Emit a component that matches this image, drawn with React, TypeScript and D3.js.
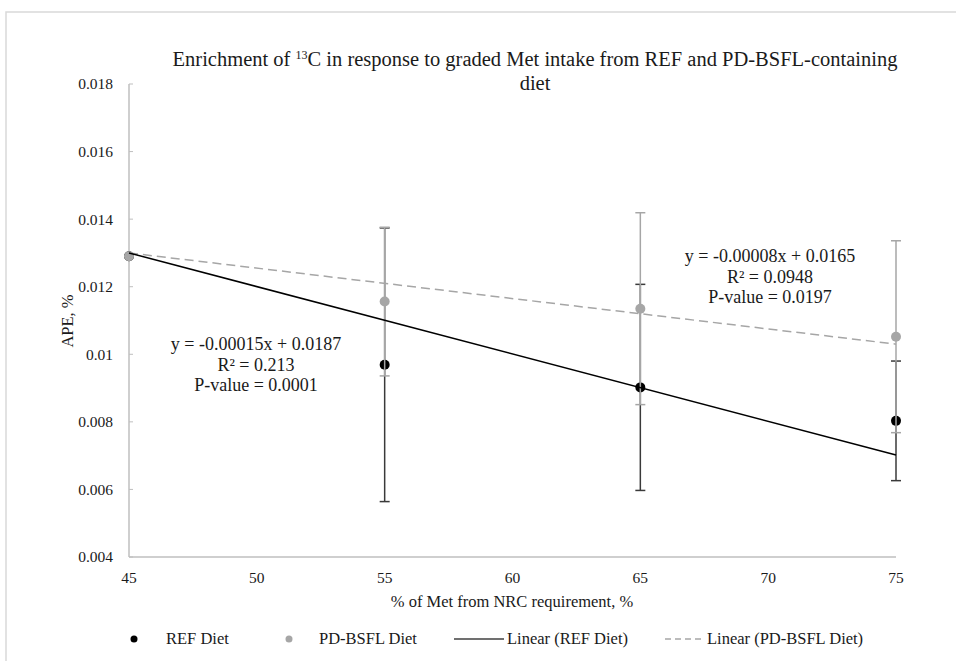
import * as d3 from 'd3'

// values
const doses = [45, 55, 65, 75]
const refMean = [0.0129, 0.00969, 0.00902, 0.00803]
const refErr = [0, 0.00405, 0.00305, 0.00177]
const bsflMean = [0.0129, 0.01156, 0.01135, 0.01052]
const bsflErr = [0, 0.0022, 0.00284, 0.00284]

// fitted lines as drawn (start / end)
const refTrend = [[45, 0.0130], [75, 0.00702]]
const bsflTrend = [[45, 0.0130], [75, 0.0103]]

const yTicks = [0.004, 0.006, 0.008, 0.01, 0.012, 0.014, 0.016, 0.018]
const xTicks = [45, 50, 55, 60, 65, 70, 75]

const refLabel = ['y = -0.00015x + 0.0187', 'R² = 0.213', 'P-value = 0.0001']
const bsflLabel = ['y = -0.00008x + 0.0165', 'R² = 0.0948', 'P-value = 0.0197']

const FONT = '"Liberation Serif", "Times New Roman", serif'
const BLACK = '#000000'
const GREY = '#a6a6a6'
const BAR_DARK = '#3a3a3a'
const AXIS = '#bfbfbf'

export default function App() {
  const width = 956
  const height = 661
  const margin = { top: 84, right: 60, bottom: 104, left: 129 }

  const x = d3.scaleLinear().domain([45, 75]).range([margin.left, 896])
  const y = d3.scaleLinear().domain([0.004, 0.018]).range([557, margin.top])

  const line = d3.line<number[]>().x((d) => x(d[0])).y((d) => y(d[1]))

  const errorBars = (means: number[], errs: number[], color: string, key: string) =>
    doses.map((d, i) => {
      if (!errs[i]) return null
      const hi = y(means[i] + errs[i])
      const lo = y(means[i] - errs[i])
      const cx = x(d)
      return (
        <g key={key + i} stroke={color} strokeWidth={1.5}>
          <line x1={cx} x2={cx} y1={hi} y2={lo} />
          <line x1={cx - 5} x2={cx + 5} y1={hi} y2={hi} />
          <line x1={cx - 5} x2={cx + 5} y1={lo} y2={lo} />
        </g>
      )
    })

  return (
    <svg
      width={width}
      height={height}
      style={{ position: 'absolute', left: 0, top: 0, background: '#fff' }}
      fontFamily={FONT}
    >
      {/* outer chart frame */}
      <rect x={6} y={12} width={width + 20} height={height + 20} fill="none" stroke="#d9d9d9" strokeWidth={1.5} />

      {/* title */}
      <text x={535} y={66} textAnchor="middle" fontSize={20.5} fill="#1a1a1a">
        Enrichment of <tspan fontSize={12} dy={-7}>13</tspan>
        <tspan dy={7}>C in response to graded Met intake from REF and PD-BSFL-containing</tspan>
      </text>
      <text x={535} y={90} textAnchor="middle" fontSize={20.5} fill="#1a1a1a">diet</text>

      {/* axes */}
      <line x1={x(45)} x2={x(45)} y1={y(0.018)} y2={y(0.004)} stroke={AXIS} strokeWidth={1.5} />
      <line x1={x(45)} x2={x(75)} y1={y(0.004)} y2={y(0.004)} stroke={AXIS} strokeWidth={1.5} />
      {yTicks.map((t) => (
        <g key={'yt' + t}>
          <line x1={x(45)} x2={x(45) + 4} y1={y(t)} y2={y(t)} stroke={AXIS} strokeWidth={1} />
          <text x={113} y={y(t)} dy="0.35em" textAnchor="end" fontSize={15.5} fill="#1a1a1a">
            {String(t)}
          </text>
        </g>
      ))}
      {xTicks.map((t) => (
        <text key={'xt' + t} x={x(t)} y={583} textAnchor="middle" fontSize={15.5} fill="#1a1a1a">
          {t}
        </text>
      ))}

      <text x={512} y={607} textAnchor="middle" fontSize={16.5} fill="#1a1a1a">
        % of Met from NRC requirement, %
      </text>
      <text transform="translate(73,321) rotate(-90)" textAnchor="middle" fontSize={16.5} fill="#1a1a1a">
        APE, %
      </text>

      {/* REF series (drawn first) */}
      {errorBars(refMean, refErr, BAR_DARK, 're')}
      {doses.map((d, i) => (
        <circle key={'rd' + i} cx={x(d)} cy={y(refMean[i])} r={5} fill={BLACK} />
      ))}

      {/* PD-BSFL series */}
      {errorBars(bsflMean, bsflErr, GREY, 'be')}
      {doses.map((d, i) => (
        <circle key={'bd' + i} cx={x(d)} cy={y(bsflMean[i])} r={5} fill={GREY} />
      ))}

      {/* linear trendlines */}
      <path d={line(bsflTrend) ?? ''} fill="none" stroke={GREY} strokeWidth={1.5} strokeDasharray="9 5" />
      <path d={line(refTrend) ?? ''} fill="none" stroke={BLACK} strokeWidth={1.5} />

      {/* equation labels */}
      {refLabel.map((s, i) => (
        <text key={'rl' + i} x={256} y={350 + i * 20.5} textAnchor="middle" fontSize={18} fill="#1a1a1a">
          {s}
        </text>
      ))}
      {bsflLabel.map((s, i) => (
        <text key={'bl' + i} x={770} y={262 + i * 20.5} textAnchor="middle" fontSize={18} fill="#1a1a1a">
          {s}
        </text>
      ))}

      {/* legend */}
      <g fontSize={16.5} fill="#1a1a1a">
        <circle cx={134} cy={639} r={3.5} fill={BLACK} />
        <text x={166} y={644}>REF Diet</text>
        <circle cx={289} cy={639} r={3.5} fill={GREY} />
        <text x={319} y={644}>PD-BSFL Diet</text>
        <line x1={454} x2={504} y1={639} y2={639} stroke="#404040" strokeWidth={1.5} />
        <text x={507} y={644}>Linear (REF Diet)</text>
        <line x1={665} x2={704} y1={639} y2={639} stroke={GREY} strokeWidth={1.5} strokeDasharray="6 4" />
        <text x={707} y={644}>Linear (PD-BSFL Diet)</text>
      </g>
    </svg>
  )
}
